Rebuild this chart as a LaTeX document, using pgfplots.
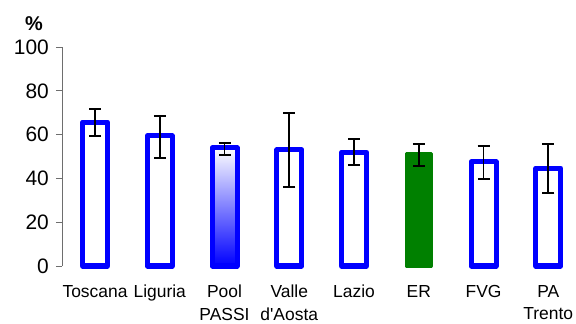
\documentclass[border=0pt]{standalone}
\usepackage{pgfplots}
\pgfplotsset{compat=1.18}
\usepackage{fontspec}
\setmainfont{Liberation Sans}[Ligatures=TeXOff]
\definecolor{erg}{RGB}{0,128,0}
\definecolor{axg}{RGB}{110,110,110}
\begin{document}
\begin{tikzpicture}
\begin{axis}[
  at={(62bp,58bp)}, anchor=south west,
  scale only axis, width=518bp, height=219bp,
  xmin=-0.51, xmax=7.49, ymin=0, ymax=100,
  axis x line*=bottom, axis y line*=left,
  x axis line style={draw=none},
  y axis line style={axg, line width=0.8bp},
  xtick={0,...,7}, xtick style={draw=none},
  xticklabels={Toscana,Liguria,{Pool\\PASSI},{Valle\\d'Aosta},Lazio,ER,FVG,{PA\\Trento}},
  xticklabel style={font=\fontsize{17.5}{23}\selectfont, align=center, anchor=north, yshift=-9.5bp},
  ytick={0,20,...,100},
  ytick style={axg, line width=0.8bp},
  major tick length=6bp, tick align=outside,
  yticklabel style={font=\fontsize{21}{21}\selectfont, inner sep=0pt, xshift=-7bp},
  /pgf/number format/assume math mode=true,
  ylabel={\textbf{\%}}, ylabel style={rotate=-90, at={(rel axis cs:0,1)}, anchor=center, font=\fontsize{20}{20}\selectfont, xshift=-28bp, yshift=23bp},
  clip=false,
  bstyle/.style={ybar, bar width=25bp, bar shift=0pt, line width=5bp, line join=round,
    error bars/y dir=both, error bars/y explicit,
    error bars/error bar style={black, line width=1.8bp, line join=miter},
    error bars/error mark options={black, line width=1.8bp, mark size=6bp, rotate=90}},
]
\addplot[bstyle, draw=blue, fill=white] coordinates {(0,65.7) += (0,6.0) -= (0,6.3)};
\addplot[bstyle, draw=blue, fill=white] coordinates {(1,59.4) += (0,9.1) -= (0,10.1)};
\addplot[bstyle, draw=blue, top color=white, middle color=blue!22, bottom color=blue] coordinates {(2,53.9) += (0,2.3) -= (0,3.2)};
\addplot[bstyle, draw=blue, fill=white] coordinates {(3,53.0) += (0,16.9) -= (0,16.9)};
\addplot[bstyle, draw=blue, fill=white] coordinates {(4,52.0) += (0,6.0) -= (0,5.9)};
\addplot[bstyle, draw=erg, fill=erg, line width=3bp] coordinates {(5,51.4) += (0,4.3) -= (0,5.7)};
\addplot[bstyle, draw=blue, fill=white] coordinates {(6,47.5) += (0,7.3) -= (0,7.8)};
\addplot[bstyle, draw=blue, fill=white] coordinates {(7,44.7) += (0,11.0) -= (0,11.4)};
\end{axis}
\pgfresetboundingbox
\path[use as bounding box] (0,0) rectangle (576bp,324bp);
\end{tikzpicture}
\end{document}
